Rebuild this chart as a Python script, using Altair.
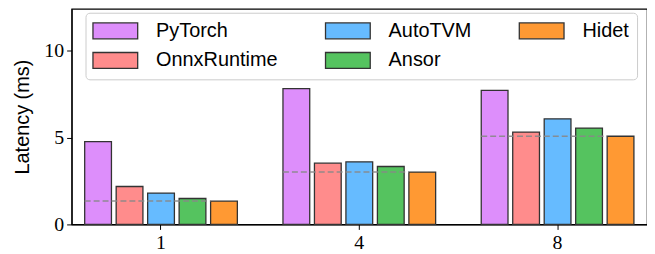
import altair as alt
import pandas as pd

groups = ["1", "4", "8"]
series = ["PyTorch", "OnnxRuntime", "AutoTVM", "Ansor", "Hidet"]
pytorch = [4.76, 7.81, 7.71]
onnxruntime = [2.18, 3.52, 5.31]
autotvm = [1.80, 3.60, 6.07]
ansor = [1.49, 3.33, 5.54]
hidet = [1.34, 3.01, 5.07]
colors = ["#DD8EFB", "#FF8C8C", "#66BBFF", "#55C35F", "#FF9933"]

vals = [pytorch, onnxruntime, autotvm, ansor, hidet]
rows = []
for s, vs in zip(series, vals):
    for g, v in zip(groups, vs):
        rows.append({"group": g, "series": s, "latency": v})
df = pd.DataFrame(rows)
ref = pd.DataFrame({"group": groups, "latency": hidet})

sans = "Liberation Sans"
serif = "Liberation Serif"

xscale = alt.Scale(paddingInner=0.23, paddingOuter=0.066)
yscale = alt.Scale(domain=[0, 12.4], nice=False)

bars = alt.Chart(df).mark_bar(stroke="#333333", strokeWidth=1.3, opacity=1).encode(
    x=alt.X("group:N", sort=groups, scale=xscale,
            axis=alt.Axis(title=None, labelAngle=0, labelFont=serif, labelFontSize=20,
                          labelColor="black", tickColor="black", tickSize=5,
                          domainColor="black", domainWidth=1.2, labelPadding=3)),
    xOffset=alt.XOffset("series:N", sort=series,
                        scale=alt.Scale(paddingInner=0.15, paddingOuter=0)),
    y=alt.Y("latency:Q", scale=yscale,
            axis=alt.Axis(title="Latency (ms)", values=[0, 5, 10], format="d",
                          labelFont=serif, labelFontSize=20, labelColor="black",
                          titleFont=sans, titleFontSize=20, titleFontWeight="normal",
                          titleColor="black", tickColor="black", tickSize=5,
                          domainColor="black", domainWidth=1.2, labelPadding=3,
                          titlePadding=11, grid=False)),
    color=alt.Color("series:N", sort=series,
                    scale=alt.Scale(domain=series, range=colors),
                    legend=alt.Legend(title=None, orient="none", legendX=14, legendY=4,
                                      columns=3, columnPadding=44, rowPadding=8,
                                      symbolType="M-2.625,-2H8.625V2H-2.625Z", symbolSize=64,
                                      symbolStrokeColor="#333333", symbolStrokeWidth=1.3,
                                      symbolOpacity=1,
                                      labelFont=sans, labelFontSize=20, labelColor="black",
                                      labelOffset=43, padding=8, strokeColor="#cccccc",
                                      fillColor="white", cornerRadius=4)),
)

rule = alt.Chart(ref).mark_rule(color="#888888", strokeDash=[6, 3], strokeWidth=1.5,
                                opacity=0.9).encode(
    x=alt.X("group:N", sort=groups, bandPosition=0),
    x2=alt.X2("group:N", bandPosition=0.825),
    y=alt.Y("latency:Q"),
)

chart = alt.layer(bars, rule).properties(
    width=579, height=217,
    autosize=alt.AutoSizeParams(type="none"),
    padding={"left": 64, "top": 0, "right": 0, "bottom": 29},
).configure_view(stroke="black", strokeWidth=1.2).configure_axis(grid=False)

chart.save("out.html", embed_options={"renderer": "svg", "actions": False})
